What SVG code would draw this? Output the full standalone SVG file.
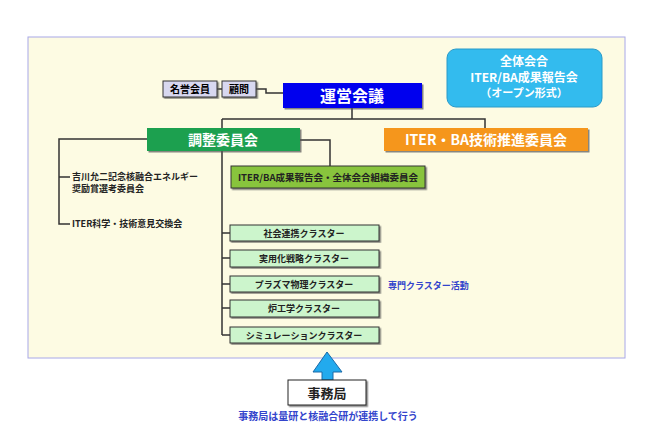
<svg xmlns="http://www.w3.org/2000/svg" width="650" height="446" viewBox="0 0 650 446">
<style>
text{font-family:"Noto Sans CJK JP","Liberation Sans",sans-serif;font-weight:bold;text-anchor:middle}
.ln{stroke:#333;stroke-width:1.5;fill:none}
.cl{fill:#ccf5cc;stroke:#333;stroke-width:1}
.sm{font-size:9px;fill:#222}
</style>
<defs><filter id="sh"><feDropShadow dx="1.5" dy="1.5" stdDeviation="0.6" flood-color="#555" flood-opacity="0.7"/></filter></defs>
<rect x="0" y="0" width="650" height="446" fill="#fff"/>
<rect x="28" y="37" width="597" height="321" fill="#fdfbe3" stroke="#a8a8e8" stroke-width="1"/>
<g id="connectors">
<path class="ln" d="M217 89H222M256 89H266V93H283" stroke="#5a8aa8"/>
<path class="ln" d="M352 108V119M222 119H485V128M222 119V335"/>
<path class="ln" d="M300 140H330V166"/>
<path class="ln" d="M147 139H59V224H70M59 177H70"/>
<path class="ln" d="M222 233H230M222 258H230M222 284H230M222 308H230M222 335H230"/>
</g>
<g id="meiyo"><rect x="163" y="81" width="54" height="16" fill="#d8d8f0" stroke="#333" filter="url(#sh)"/><text x="190" y="93" font-size="10">名誉会員</text></g>
<g id="komon"><rect x="222" y="81" width="34" height="16" fill="#d8d8f0" stroke="#333" filter="url(#sh)"/><text x="239" y="93" font-size="10">顧問</text></g>
<g id="unei"><rect x="283" y="83" width="139" height="25" fill="#0000ee" filter="url(#sh)"/><text x="352" y="102" font-size="16" fill="#fff">運営会議</text></g>
<g id="zentai"><rect x="447" y="49" width="155" height="58" rx="9" fill="#33bbee" stroke="#2a9ac8"/><text x="524" y="66" font-size="12" fill="#fff">全体会合</text><text x="524" y="82" font-size="12" fill="#fff">ITER/BA成果報告会</text><text x="524" y="97" font-size="11" fill="#fff">（オープン形式）</text></g>
<g id="chosei"><rect x="147" y="128" width="153" height="23" fill="#1aa050" filter="url(#sh)"/><text x="223" y="145" font-size="14" fill="#fff">調整委員会</text></g>
<g id="iterba"><rect x="384" y="128" width="204" height="23" fill="#f5961e" filter="url(#sh)"/><text x="486" y="145" font-size="14" fill="#fff">ITER・BA技術推進委員会</text></g>
<g id="soshiki"><rect x="231" y="166" width="194" height="22" fill="#88c43c" stroke="#333" filter="url(#sh)"/><text x="328" y="181" font-size="9.5" fill="#222">ITER/BA成果報告会・全体会合組織委員会</text></g>
<g id="yoshikawa"><text x="72" y="180" class="sm" text-anchor="start" style="text-anchor:start">吉川允二記念核融合エネルギー</text><text x="72" y="192" class="sm" style="text-anchor:start">奨励賞選考委員会</text></g>
<g id="iterkagaku"><text x="72" y="227" class="sm" style="text-anchor:start">ITER科学・技術意見交換会</text></g>
<g id="c1"><rect class="cl" x="230" y="225" width="149" height="16" filter="url(#sh)"/><text x="304" y="237" class="sm">社会連携クラスター</text></g>
<g id="c2"><rect class="cl" x="230" y="250" width="149" height="17" filter="url(#sh)"/><text x="304" y="262" class="sm">実用化戦略クラスター</text></g>
<g id="c3"><rect class="cl" x="230" y="276" width="149" height="16" filter="url(#sh)"/><text x="304" y="288" class="sm">プラズマ物理クラスター</text></g>
<g id="c4"><rect class="cl" x="230" y="300" width="149" height="17" filter="url(#sh)"/><text x="304" y="312" class="sm">炉工学クラスター</text></g>
<g id="c5"><rect class="cl" x="230" y="327" width="149" height="16" filter="url(#sh)"/><text x="304" y="339" class="sm">シミュレーションクラスター</text></g>
<g id="senmon"><text x="388" y="289" font-size="9" fill="#3344cc" style="text-anchor:start">専門クラスター活動</text></g>
<g id="arrow"><path d="M327 352L342 372H333V380H322V372H313Z" fill="#22aaee" stroke="#1a6aa8" stroke-width="1"/></g>
<g id="jimu"><rect x="288" y="380" width="78" height="25" fill="#fff" stroke="#222" filter="url(#sh)"/><text x="327" y="398" font-size="13" fill="#222">事務局</text></g>
<g id="note"><text x="328" y="420" font-size="10" fill="#3344cc">事務局は量研と核融合研が連携して行う</text></g>
</svg>
